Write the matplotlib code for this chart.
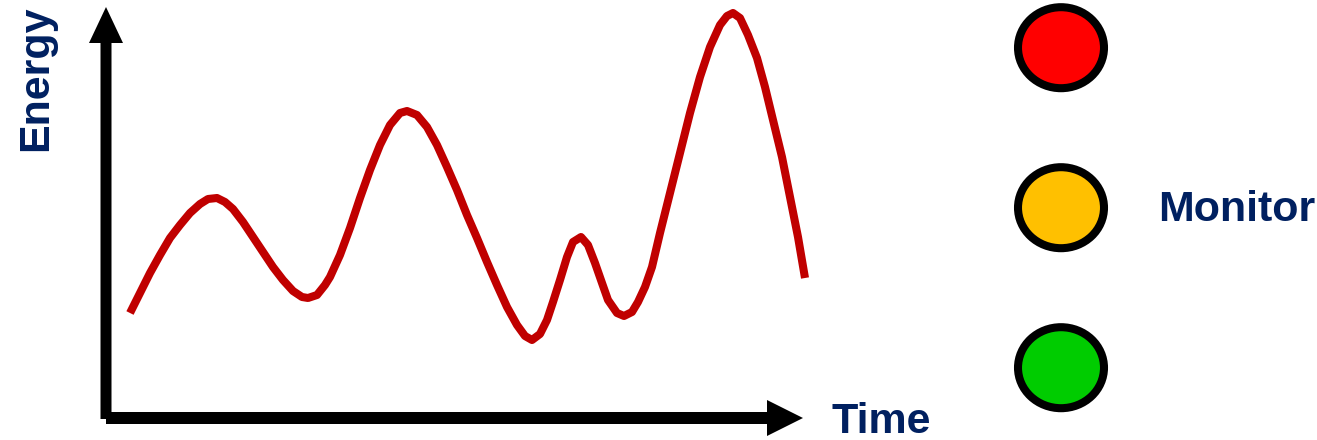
import matplotlib
matplotlib.use("Agg")
import matplotlib.pyplot as plt
from matplotlib.patches import FancyArrow, Ellipse

# Curve (pixel coordinates, y downward)
time_x = [130, 140, 150, 160, 170, 180, 190, 200, 208, 217, 225, 233, 243,
          253, 263, 273, 283, 293, 302, 308, 317, 325, 330, 340, 350, 360,
          370, 380, 390, 400, 407, 417, 427, 437, 447, 457, 467, 477, 487,
          497, 507, 517, 525, 532, 540, 547, 553, 560, 567, 573, 581, 588,
          595, 602, 608, 617, 624, 632, 638, 645, 652, 660, 670, 680, 690,
          700, 710, 720, 727, 733, 740, 748, 757, 765, 773, 782, 790, 798,
          805]
energy_y = [313, 293, 273, 255, 238, 225, 213, 204, 199, 198, 202, 209, 222,
            237, 252, 267, 280, 291, 297, 298, 295, 285, 277, 255, 228, 198,
            170, 145, 125, 113, 111, 115, 127, 145, 167, 190, 215, 238, 262,
            285, 307, 325, 336, 340, 334, 320, 302, 280, 257, 242, 237, 245,
            263, 283, 300, 313, 316, 312, 302, 287, 267, 233, 193, 153, 113,
            77, 47, 25, 16, 13, 18, 35, 58, 87, 120, 157, 197, 237,
            278]

light_colors = ["#FF0000", "#FFC000", "#00CC00"]
light_y = [47.7, 207.7, 367.7]
status_label = "Monitor"
x_label = "Time"
y_label = "Energy"

navy = "#002060"
fig = plt.figure(figsize=(13.17, 4.40), dpi=100)
ax = fig.add_axes([0, 0, 1, 1])
ax.set_xlim(0, 1317)
ax.set_ylim(440, 0)
ax.axis("off")

# axes arrows
ax.add_patch(FancyArrow(106, 419, 0, 7 - 419, width=11, head_width=34,
                        head_length=36, length_includes_head=True,
                        color="black", lw=0))
ax.add_patch(FancyArrow(106, 418, 803 - 106, 0, width=12, head_width=36,
                        head_length=36, length_includes_head=True,
                        color="black", lw=0))

ax.plot(time_x, energy_y, color="#C00000", lw=5.8, solid_capstyle="butt",
        solid_joinstyle="round")

for c, y in zip(light_colors, light_y):
    ax.add_patch(Ellipse((1061, y), 86, 81, facecolor=c, edgecolor="black",
                         lw=5.8))

font = dict(family=["Liberation Sans", "DejaVu Sans"], fontweight="bold",
            color=navy, fontsize=31)
ax.text(1158, 220.7, status_label, ha="left", va="baseline", **font)
ax.text(831, 433, x_label, ha="left", va="baseline", **font)
ax.text(36, 78, y_label, ha="center", va="center", rotation=90, **font)

fig.savefig("out.png", dpi=100)
